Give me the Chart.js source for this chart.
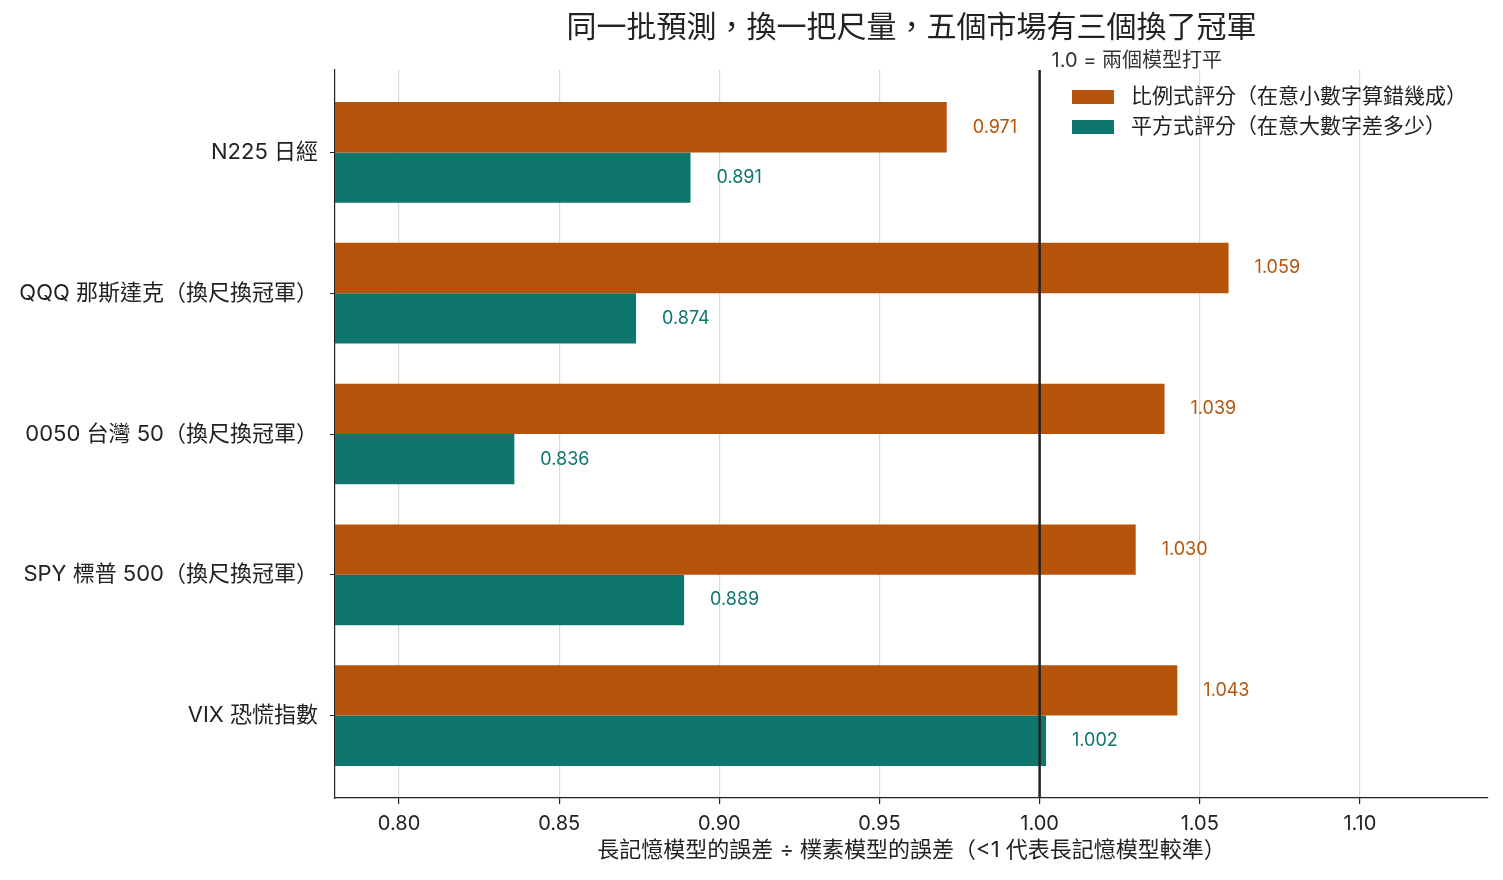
<!DOCTYPE html>
<html lang="zh-Hant">
<head>
<meta charset="utf-8">
<title>同一批預測，換一把尺量</title>
<script src="https://cdn.jsdelivr.net/npm/chart.js@4.4.1/dist/chart.umd.min.js"></script>
<style>
  html, body { margin: 0; padding: 0; background: #fff; }
  #wrap { width: 1503px; height: 880px; }
</style>
</head>
<body>
<div id="wrap"><canvas id="chart"></canvas></div>
<script>
const markets = ["N225 日經", "QQQ 那斯達克（換尺換冠軍）", "0050 台灣 50（換尺換冠軍）", "SPY 標普 500（換尺換冠軍）", "VIX 恐慌指數"];
const ratioScore = [0.971, 1.059, 1.039, 1.030, 1.043];
const squareScore = [0.891, 0.874, 0.836, 0.889, 1.002];
const xTicks = [0.80, 0.85, 0.90, 0.95, 1.00, 1.05, 1.10];
const seriesLabels = ["比例式評分（在意小數字算錯幾成）", "平方式評分（在意大數字差多少）"];
const tieValue = 1.0;
const tieLabel = "1.0 = 兩個模型打平";
const chartTitle = "同一批預測，換一把尺量，五個市場有三個換了冠軍";
const xTitle = "長記憶模型的誤差 ÷ 樸素模型的誤差（<1 代表長記憶模型較準）";

const FONT = 'Inter, "Noto Sans CJK TC", sans-serif';
const ORANGE = "#b45309";
const TEAL = "#0f766e";
const INK = "#222222";

// title, legend, 1.0 line, value labels
const overlay = {
  id: "overlay",
  beforeDraw(chart) {
    const { ctx, width, height } = chart;
    ctx.save();
    ctx.fillStyle = "#fff";
    ctx.fillRect(0, 0, width, height);
    ctx.restore();
  },
  afterDatasetsDraw(chart) {
    const { ctx, chartArea: a, scales: { x } } = chart;
    ctx.save();
    ctx.font = "18px " + FONT;
    ctx.textAlign = "left";
    ctx.textBaseline = "middle";
    chart.data.datasets.forEach((ds, di) => {
      const meta = chart.getDatasetMeta(di);
      ctx.fillStyle = ds.backgroundColor;
      meta.data.forEach((bar, i) => {
        ctx.fillText(ds.data[i].x.toFixed(3), bar.x + 26, bar.y);
      });
    });

    const px = x.getPixelForValue(tieValue);
    ctx.strokeStyle = INK;
    ctx.lineWidth = 2.5;
    ctx.beginPath();
    ctx.moveTo(px, a.top);
    ctx.lineTo(px, a.bottom);
    ctx.stroke();

    ctx.fillStyle = "#333";
    ctx.font = "20px " + FONT;
    ctx.fillText(tieLabel, px + 12, a.top - 9);
    ctx.restore();
  },
  afterDraw(chart) {
    const { ctx, chartArea: a } = chart;
    ctx.save();
    ctx.fillStyle = INK;
    ctx.font = "30px " + FONT;
    ctx.textAlign = "center";
    ctx.textBaseline = "middle";
    ctx.fillText(chartTitle, (a.left + a.right) / 2, 28);

    ctx.font = "21px " + FONT;
    ctx.textAlign = "left";
    chart.data.datasets.forEach((ds, i) => {
      const y = a.top + 27 + i * 30;
      ctx.fillStyle = ds.backgroundColor;
      ctx.fillRect(a.right - 416, y - 7, 42, 14);
      ctx.fillStyle = INK;
      ctx.fillText(ds.label, a.right - 357, y);
    });
    ctx.restore();
  }
};

new Chart(document.getElementById("chart"), {
  type: "bar",
  data: {
    datasets: [
      { label: seriesLabels[0], data: ratioScore.map((v, i) => ({ x: v, y: i })), backgroundColor: ORANGE },
      { label: seriesLabels[1], data: squareScore.map((v, i) => ({ x: v, y: i })), backgroundColor: TEAL }
    ]
  },
  options: {
    indexAxis: "y",
    responsive: true,
    maintainAspectRatio: false,
    animation: false,
    categoryPercentage: 0.715,
    barPercentage: 1.0,
    layout: { padding: { top: 70, right: 15, left: 0, bottom: 0 } },
    plugins: { legend: { display: false }, title: { display: false }, tooltip: { enabled: false } },
    scales: {
      x: {
        type: "linear",
        min: 0.78,
        max: 1.14,
        afterBuildTicks: s => { s.ticks = xTicks.map(v => ({ value: v })); },
        afterFit: s => { s.height = 82; },
        ticks: { callback: v => v.toFixed(2), color: INK, font: { family: FONT, size: 20 }, padding: 8 },
        grid: { color: "#d9d9d9", lineWidth: 1.2, tickColor: INK, tickLength: 6 },
        border: { color: INK, width: 1.2 },
        title: { display: true, text: xTitle, color: INK, font: { family: FONT, size: 22 }, padding: { top: 4, bottom: 16 } }
      },
      y: {
        type: "linear",
        reverse: true,
        offset: false,
        min: -0.585,
        max: 4.585,
        afterBuildTicks: s => { s.ticks = markets.map((m, i) => ({ value: i })); },
        afterFit: s => { s.width = 335; },
        ticks: { callback: v => markets[v], color: INK, font: { family: FONT, size: 22 }, padding: 12 },
        grid: { offset: false, drawOnChartArea: false, tickColor: INK, tickLength: 5 },
        border: { color: INK, width: 1.2 }
      }
    }
  },
  plugins: [overlay]
});
</script>
</body>
</html>
